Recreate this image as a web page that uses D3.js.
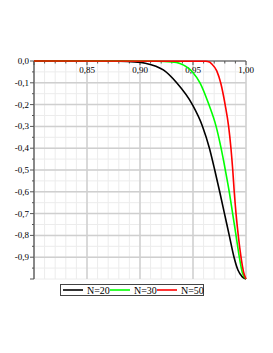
<!DOCTYPE html>
<html>
<head>
<meta charset="utf-8">
<script src="https://cdn.jsdelivr.net/npm/d3@7"></script>
<style>
  body { margin: 0; background: #fff; }
  svg { display: block; }
</style>
</head>
<body>
<div id="chart"></div>
<script>
// Values
const seriesNames = ["N=20", "N=30", "N=50"];
const seriesColors = ["#000000", "#00ff00", "#ff0000"];

const xN20 = [0.80, 0.88, 0.895, 0.905, 0.915, 0.922, 0.9346, 0.9494, 0.9590, 0.9655, 0.9705, 0.9752, 0.9797, 0.9842, 0.9887, 0.9925, 0.9965, 1.0];
const yN20 = [0, -0.001, -0.004, -0.010, -0.024, -0.041, -0.10, -0.20, -0.30, -0.40, -0.50, -0.60, -0.70, -0.80, -0.90, -0.96, -0.99, -1.0];

const xN30 = [0.80, 0.915, 0.93, 0.9377, 0.9495, 0.9566, 0.9650, 0.9718, 0.9765, 0.9805, 0.9842, 0.9874, 0.9906, 0.9937, 0.9965, 1.0];
const yN30 = [0, -0.001, -0.004, -0.011, -0.05, -0.10, -0.20, -0.30, -0.40, -0.50, -0.60, -0.70, -0.80, -0.90, -0.97, -1.0];

const xN50 = [0.80, 0.962, 0.9655, 0.9677, 0.9724, 0.9761, 0.9803, 0.9836, 0.9858, 0.9875, 0.9889, 0.9906, 0.9927, 0.9953, 0.9978, 1.0];
const yN50 = [0, -0.001, -0.005, -0.014, -0.045, -0.10, -0.20, -0.30, -0.40, -0.50, -0.60, -0.70, -0.80, -0.90, -0.97, -1.0];

const xTickLabels = ["0,85", "0,90", "0,95", "1,00"];
const yTickLabels = ["0,0", "-0,1", "-0,2", "-0,3", "-0,4", "-0,5", "-0,6", "-0,7", "-0,8", "-0,9"];

const width = 273, height = 353;
const margin = {left: 34, right: 27, top: 61, bottom: 74};

const x = d3.scaleLinear().domain([0.8, 1.0]).range([margin.left, width - margin.right]);
const y = d3.scaleLinear().domain([0, -1.0]).range([margin.top, height - margin.bottom]);

const svg = d3.select("#chart").append("svg")
    .attr("width", width)
    .attr("height", height)
    .style("font-family", "'Liberation Serif', 'DejaVu Serif', serif");

// Minor grid
const xMinor = d3.range(0, 21).map(i => 0.8 + i * 0.01);
const yMinor = d3.range(0, 21).map(i => -i * 0.05);

svg.append("g").selectAll("line")
    .data(xMinor)
    .join("line")
    .attr("x1", d => x(d)).attr("x2", d => x(d))
    .attr("y1", y(0)).attr("y2", y(-1))
    .attr("stroke", "#ececec").attr("stroke-width", 1);

svg.append("g").selectAll("line")
    .data(yMinor)
    .join("line")
    .attr("x1", x(0.8)).attr("x2", x(1.0))
    .attr("y1", d => y(d)).attr("y2", d => y(d))
    .attr("stroke", "#ececec").attr("stroke-width", 1);

// Major grid
const xMajor = [0.85, 0.90, 0.95, 1.00];
const yMajor = d3.range(1, 10).map(i => -i * 0.1);

svg.append("g").selectAll("line")
    .data(xMajor)
    .join("line")
    .attr("x1", d => x(d)).attr("x2", d => x(d))
    .attr("y1", y(0)).attr("y2", y(-1))
    .attr("stroke", "#cfcfcf").attr("stroke-width", 1.5);

svg.append("g").selectAll("line")
    .data(yMajor)
    .join("line")
    .attr("x1", x(0.8)).attr("x2", x(1.0))
    .attr("y1", d => y(d)).attr("y2", d => y(d))
    .attr("stroke", "#cfcfcf").attr("stroke-width", 1.5);

// Axes
svg.append("line")
    .attr("x1", x(0.8)).attr("x2", x(1.0))
    .attr("y1", y(0)).attr("y2", y(0))
    .attr("stroke", "#777").attr("stroke-width", 1.5);

svg.append("line")
    .attr("x1", x(0.8)).attr("x2", x(0.8))
    .attr("y1", y(0)).attr("y2", y(-1))
    .attr("stroke", "#888").attr("stroke-width", 2);

// x ticks
svg.append("g").selectAll("line")
    .data(xMinor)
    .join("line")
    .attr("x1", d => x(d)).attr("x2", d => x(d))
    .attr("y1", y(0)).attr("y2", (d, i) => y(0) + (i % 5 === 0 ? 4 : 2.5))
    .attr("stroke", "#555").attr("stroke-width", 1);

svg.append("g").selectAll("text")
    .data(xMajor)
    .join("text")
    .attr("x", d => x(d))
    .attr("y", y(0) + 12)
    .attr("text-anchor", "middle")
    .attr("font-size", 9)
    .text((d, i) => xTickLabels[i]);

// y ticks
svg.append("g").selectAll("line")
    .data(yMinor)
    .join("line")
    .attr("x1", (d, i) => x(0.8) - (i % 2 === 0 ? 4 : 2))
    .attr("x2", x(0.8))
    .attr("y1", d => y(d)).attr("y2", d => y(d))
    .attr("stroke", "#555").attr("stroke-width", 1);

svg.append("g").selectAll("text")
    .data(yTickLabels)
    .join("text")
    .attr("x", x(0.8) - 5)
    .attr("y", (d, i) => y(-i * 0.1) + 3)
    .attr("text-anchor", "end")
    .attr("font-size", 9)
    .text(d => d);

// Curves
const series = [
    {name: seriesNames[0], color: seriesColors[0], xs: xN20, ys: yN20},
    {name: seriesNames[1], color: seriesColors[1], xs: xN30, ys: yN30},
    {name: seriesNames[2], color: seriesColors[2], xs: xN50, ys: yN50}
];

const line = d3.line()
    .x(d => x(d[0]))
    .y(d => y(d[1]))
    .curve(d3.curveMonotoneX);

svg.append("g").selectAll("path")
    .data(series)
    .join("path")
    .attr("fill", "none")
    .attr("stroke", d => d.color)
    .attr("stroke-width", 1.6)
    .attr("d", d => line(d.xs.map((v, i) => [v, d.ys[i]])));

// Legend
const legend = svg.append("g");
legend.append("rect")
    .attr("x", 60.5).attr("y", 284.5)
    .attr("width", 143).attr("height", 11)
    .attr("fill", "#fff").attr("stroke", "#444").attr("stroke-width", 1);

const item = legend.selectAll("g")
    .data(series)
    .join("g")
    .attr("transform", (d, i) => `translate(${63 + i * 47},290)`);

item.append("line")
    .attr("x1", 0).attr("x2", 20)
    .attr("stroke", d => d.color).attr("stroke-width", 1.6);

item.append("text")
    .attr("x", 24).attr("y", 3.5)
    .attr("font-size", 10)
    .text(d => d.name);
</script>
</body>
</html>
